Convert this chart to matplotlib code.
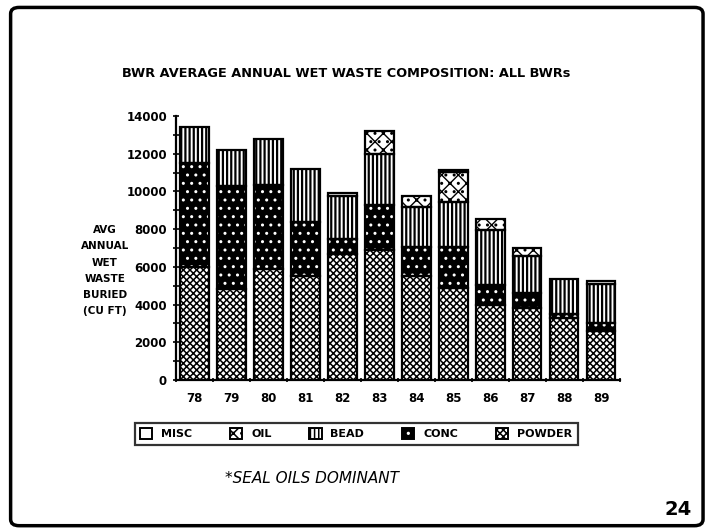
"""BWR average annual wet waste composition - stacked bar slide."""
import matplotlib
matplotlib.use("Agg")
import matplotlib.pyplot as plt
from matplotlib.patches import FancyBboxPatch, Patch
from matplotlib.ticker import MultipleLocator
import numpy as np

# data (cu ft)
years = ["78", "79", "80", "81", "82", "83", "84", "85", "86", "87", "88", "89"]
powder = [6000, 4800, 5900, 5500, 6700, 6900, 5500, 4900, 4000, 3800, 3300, 2600]
conc = [5500, 5500, 4450, 2900, 800, 2400, 1550, 2150, 1050, 800, 200, 400]
bead = [1900, 1900, 2450, 2800, 2250, 2700, 2150, 2400, 2900, 1950, 1850, 2100]
oil = [0, 0, 0, 0, 0, 1200, 550, 1600, 600, 450, 0, 0]
misc = [0, 0, 0, 0, 150, 0, 0, 100, 0, 0, 0, 150]

legend_order = ["MISC", "OIL", "BEAD", "CONC", "POWDER"]

plt.rcParams["font.family"] = "DejaVu Sans"

# (face, hatch, hatch colour, hatch linewidth) per series
styles = {
    "POWDER": ("white", "xxxxx", "black", 1.1),
    "CONC": ("black", "..", "white", 1.0),
    "BEAD": ("white", "||||", "black", 1.6),
    "OIL": ("white", "xx..", "black", 1.0),
    "MISC": ("white", "", "black", 1.0),
}
stack = [("POWDER", powder), ("CONC", conc), ("BEAD", bead), ("OIL", oil), ("MISC", misc)]

fig = plt.figure(figsize=(7.08, 5.31), dpi=100)
ax = fig.add_axes([0.2486, 0.2844, 0.627, 0.4971])

x = np.arange(len(years))
bottom = np.zeros(len(years))
for name, vals in stack:
    vals = np.array(vals, dtype=float)
    face, hatch, hcol, hlw = styles[name]
    plt.rcParams["hatch.linewidth"] = hlw
    mask = vals > 0
    ax.bar(x[mask], vals[mask], 0.76, bottom=bottom[mask], color=face,
           hatch=hatch, edgecolor=hcol, linewidth=0, zorder=2)
    ax.bar(x[mask], vals[mask], 0.76, bottom=bottom[mask], facecolor="none",
           edgecolor="black", linewidth=1.6, zorder=3)
    bottom += vals

ax.set_xlim(-0.5, len(years) - 0.5)
ax.set_ylim(0, 14000)
ax.set_xticks(x)
ax.set_xticklabels(years, fontsize=8.5, fontweight="bold")
ax.xaxis.set_minor_locator(MultipleLocator(1, offset=0.5))
ax.tick_params(axis="x", which="major", length=0, pad=9)
ax.tick_params(axis="x", which="minor", length=3, width=1.2, direction="inout")
ax.yaxis.set_major_locator(MultipleLocator(2000))
ax.yaxis.set_minor_locator(MultipleLocator(1000))
ax.tick_params(axis="y", which="both", length=5, width=1.2, direction="inout", pad=4)
for lab in ax.get_yticklabels():
    lab.set_fontsize(8.5)
    lab.set_fontweight("bold")
for s in ("top", "right"):
    ax.spines[s].set_visible(False)
for s in ("left", "bottom"):
    ax.spines[s].set_linewidth(1.6)

fig.text(0.489, 0.862, "BWR AVERAGE ANNUAL WET WASTE COMPOSITION: ALL BWRs",
         ha="center", va="center", fontsize=9.3, fontweight="bold")
fig.text(0.148, 0.49, "AVG\nANNUAL\nWET\nWASTE\nBURIED\n(CU FT)", ha="center",
         va="center", fontsize=7.5, fontweight="bold", linespacing=1.78)

handles = []
for n in legend_order:
    face, hatch, hcol, hlw = styles[n]
    plt.rcParams["hatch.linewidth"] = hlw
    fill = Patch(facecolor=face, hatch=hatch, edgecolor=hcol, linewidth=0)
    edge = Patch(facecolor="none", edgecolor="black", linewidth=1.4)
    handles.append((fill, edge))
leg = fig.legend(handles, legend_order, loc="center", bbox_to_anchor=(0.503, 0.183),
                 ncol=5, frameon=True, fancybox=False, edgecolor="black",
                 prop={"size": 8, "weight": "bold"}, columnspacing=3.4,
                 handlelength=1.1, handleheight=1.1, handletextpad=0.8,
                 borderpad=0.5)
leg.get_frame().set_linewidth(1.6)

fig.text(0.318, 0.098, "*SEAL OILS DOMINANT", ha="left", va="center",
         fontsize=11, style="italic")
fig.text(0.958, 0.04, "24", ha="center", va="center", fontsize=14, fontweight="bold")

frame = FancyBboxPatch((0.015, 0.01), 0.978, 0.976, boxstyle="round,pad=0,rounding_size=0.012",
                       transform=fig.transFigure, facecolor="none", edgecolor="black",
                       linewidth=2.5)
fig.patches.append(frame)

fig.savefig("out.png", dpi=100)
